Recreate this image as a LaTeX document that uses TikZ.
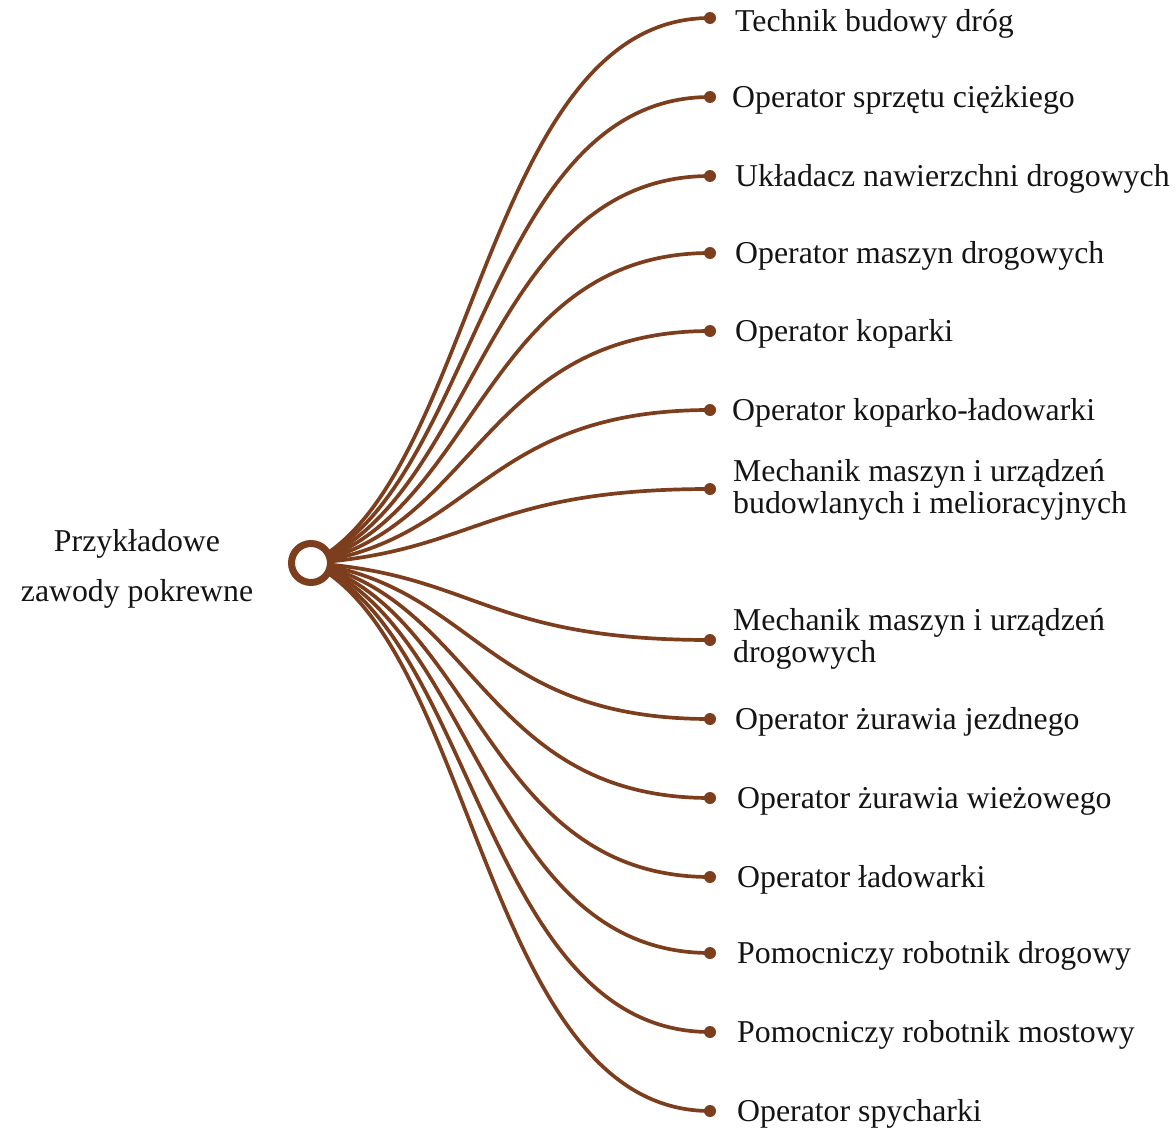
\documentclass[tikz,border=0pt]{standalone}
\usepackage{fontspec}
\setmainfont{Liberation Serif}
\definecolor{brn}{RGB}{125,62,30}
\definecolor{txt}{RGB}{20,20,20}
\tikzset{
  edge/.style={draw=brn, line width=3.7pt},
  enddot/.style={circle, fill=brn, inner sep=0pt, minimum size=12pt},
  rootring/.style={circle, draw=brn, fill=white, line width=7pt, inner sep=0pt, minimum size=39pt},
  lbl/.style={anchor=base west, inner sep=0pt, font=\fontsize{31.8}{32}\selectfont, text=txt},
  lbltwo/.style={anchor=west, inner sep=0pt, align=left, font=\fontsize{31.8}{32}\selectfont, text=txt},
  rootlbl/.style={inner sep=0pt, align=center, font=\fontsize{31.8}{50}\selectfont, text=txt}
}
\begin{document}
\begin{tikzpicture}[x=1pt,y=-1pt]
\useasboundingbox (0,0) rectangle (1176,1132);
\coordinate (rc) at (311,563);
\foreach \i/\yy in {1/18,2/97,3/176,4/253,5/331,6/410,7/489,8/640,9/719,10/798,11/877,12/953,13/1032,14/1111}{
  \node[enddot] (d\i) at (710,\yy) {};
}
\foreach \i/\yy in {1/18,2/97,3/176,4/253,5/331,6/410,7/489,8/640,9/719,10/798,11/877,12/953,13/1032,14/1111}{
  \pgfmathsetmacro\dyy{0.15*(\yy-563)}
  \draw[edge] (rc) .. controls ([shift={(165,\dyy)}]rc) and ([shift={(-225,0)}]d\i.center) .. (d\i.center);
}
\node[rootring] (root) at (rc) {};
\node[rootlbl] (rl) at (137,569) {Przykładowe\\zawody pokrewne};
\node[lbl] (l1) at (735,32) {Technik budowy dróg};
\node[lbl] (l2) at (732,107) {Operator sprzętu ciężkiego};
\node[lbl] (l3) at (735,186) {Układacz nawierzchni drogowych};
\node[lbl] (l4) at (735,263) {Operator maszyn drogowych};
\node[lbl] (l5) at (735,341) {Operator koparki};
\node[lbl] (l6) at (732,420) {Operator koparko-ładowarki};
\node[lbltwo] (l7) at (733,490) {Mechanik maszyn i urządzeń\\budowlanych i melioracyjnych};
\node[lbltwo] (l8) at (733,639) {Mechanik maszyn i urządzeń\\drogowych};
\node[lbl] (l9) at (735,729) {Operator żurawia jezdnego};
\node[lbl] (l10) at (737,808) {Operator żurawia wieżowego};
\node[lbl] (l11) at (737,887) {Operator ładowarki};
\node[lbl] (l12) at (737,963) {Pomocniczy robotnik drogowy};
\node[lbl] (l13) at (737,1042) {Pomocniczy robotnik mostowy};
\node[lbl] (l14) at (737,1121) {Operator spycharki};
\end{tikzpicture}
\end{document}
